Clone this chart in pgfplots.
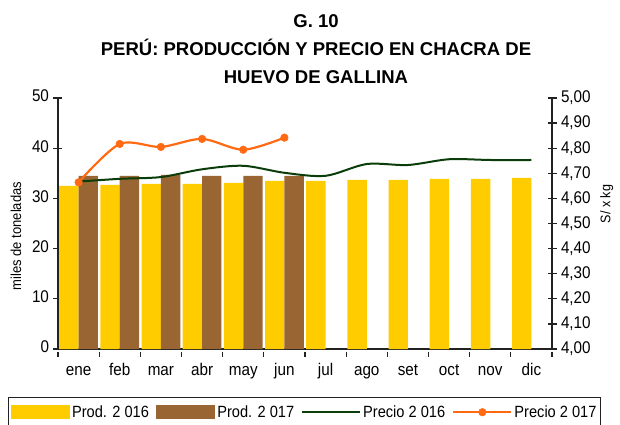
\documentclass[border=0pt]{standalone}
\usepackage{pgfplots}
\pgfplotsset{compat=1.18}
\usepackage{fontspec}
\setmainfont{Liberation Sans}[FakeStretch=0.9]
\newfontfamily\titlefont{Liberation Sans}
\definecolor{prodA}{HTML}{FFCC00}
\definecolor{prodB}{HTML}{996633}
\definecolor{precA}{HTML}{0A3D0A}
\definecolor{precB}{HTML}{FF6A13}
\definecolor{axcol}{HTML}{222222}

\pgfplotstableread{
x p16 p17
0 32.5 34.5
1 32.7 34.5
2 32.9 34.7
3 32.9 34.5
4 33.1 34.5
5 33.5 34.5
}\prodA
\pgfplotstableread{
x p16
6 33.5
7 33.7
8 33.7
9 33.9
10 33.9
11 34.1
}\prodArest
\pgfplotstableread{
x pr16
0 4.667
1 4.678
2 4.685
3 4.716
4 4.730
5 4.702
6 4.690
7 4.737
8 4.733
9 4.756
10 4.753
11 4.753
}\precioA
\pgfplotstableread{
x pr17
0 4.664
1 4.817
2 4.805
3 4.837
4 4.794
5 4.842
}\precioB

\begin{document}
\begin{tikzpicture}
\path[use as bounding box] (-58bp,-76bp) rectangle (562bp,349bp);
\pgfplotsset{
 base/.style={
  width=494bp, height=251bp, scale only axis,
  xmin=-0.5, xmax=11.5,
  tick align=center, major tick length=9bp,
  axis line style={-, line width=1.3bp, axcol},
  every tick/.style={line width=1.3bp, axcol},
  tick label style={font=\fontsize{17}{20}\selectfont},
  /pgf/number format/assume math mode=true,
 }
}
\begin{axis}[base,
  ymin=0, ymax=50, ytick={0,10,20,30,40,50},
  axis x line*=bottom, axis y line*=left,
  xtick={0,...,11},
  xticklabels={ene,feb,mar,abr,may,jun,jul,ago,set,oct,nov,dic},
  typeset ticklabels with strut,
  major x tick style={draw=none},
  minor xtick={-0.5,0.5,...,11.5},
  minor tick length=5bp,
  minor x tick style={yshift=-2.5bp},
  yticklabel style={xshift=-1bp},
  ylabel={miles de toneladas},
  ylabel style={at={(axis description cs:-0.085,0.45)}, anchor=center, rotate=0, font=\fontsize{14.5}{17}\selectfont},
  ybar, bar width=0.47,
]
\addplot[fill=prodA, draw=none, bar shift=-0.235] table[x=x, y=p16] {\prodA};
\addplot[fill=prodA, draw=none, bar shift=-0.235] table[x=x, y=p16] {\prodArest};
\addplot[fill=prodB, draw=none, bar shift=0.235] table[x=x, y=p17] {\prodA};
\end{axis}
\begin{axis}[base,
  ymin=4, ymax=5, ytick={4,4.1,4.2,4.3,4.4,4.5,4.6,4.7,4.8,4.9,5},
  axis x line=none, axis y line*=right,
  yticklabel style={xshift=1bp, /pgf/number format/.cd, fixed, fixed zerofill, precision=2, use comma},
  ylabel={S/ x kg},
  ylabel style={at={(axis description cs:1.111,0.578)}, anchor=center, font=\fontsize{14}{17}\selectfont},
  legend image code/.code={\draw[mark repeat=2,mark phase=2,#1] plot coordinates {(0bp,0bp) (29bp,0bp) (58bp,0bp)};},
  legend style={at={(axis description cs:-0.101,-0.191)}, anchor=north west,
    draw=axcol, line width=1.3bp, font=\fontsize{16.3}{19.5}\selectfont,
    inner xsep=2bp, inner ysep=6bp,
    /tikz/every even column/.append style={column sep=5bp},
    nodes={inner sep=2bp}},
  legend columns=4,
]
\addlegendimage{legend image code/.code={\fill[prodA] (0bp,-6.5bp) rectangle (58bp,6.5bp);}}
\addlegendimage{legend image code/.code={\fill[prodB] (0bp,-6.5bp) rectangle (58bp,6.5bp);}}
\addplot[precA, line width=2bp, smooth, no marks] table[x=x, y=pr16] {\precioA};
\addplot[precB, line width=2.2bp, smooth, mark=*, mark size=3.8bp, mark options={fill=precB, draw=precB, line width=0.5bp}] table[x=x, y=pr17] {\precioB};
\legend{Prod. 2 016, Prod. 2 017, Precio 2 016, Precio 2 017}
\end{axis}
\node[anchor=base, font=\titlefont\bfseries\fontsize{18.6}{22}\selectfont, inner sep=0] at (258bp,321bp) {G. 10};
\node[anchor=base, font=\titlefont\bfseries\fontsize{18.6}{22}\selectfont, inner sep=0] at (258bp,293bp) {PERÚ: PRODUCCIÓN Y PRECIO EN CHACRA DE};
\node[anchor=base, font=\titlefont\bfseries\fontsize{18.6}{22}\selectfont, inner sep=0] at (258bp,265bp) {HUEVO DE GALLINA};
\end{tikzpicture}
\end{document}
